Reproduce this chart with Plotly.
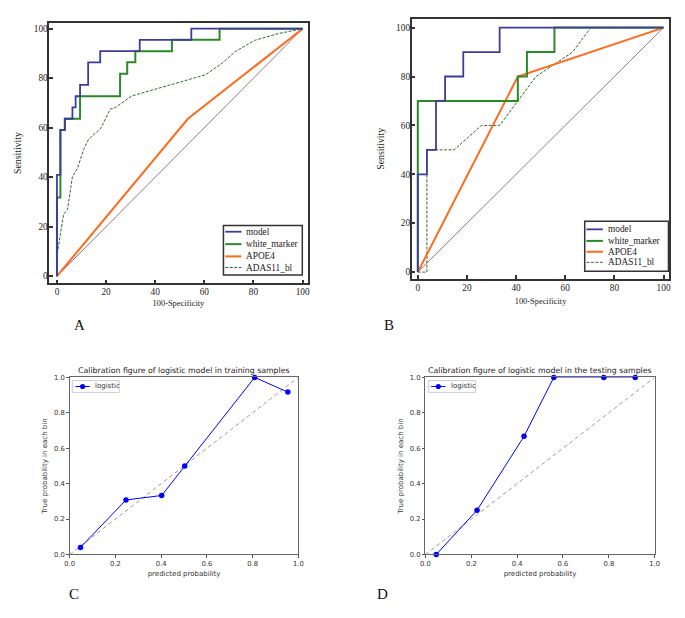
import plotly.graph_objects as go

W, H = 685, 618
def px(x): return x / W
def py(y): return 1 - y / H

# ---------------- Data ----------------
# Panel A (training ROC)
a_model_fpr = [0, 0, 1.4, 1.4, 3.2, 3.2, 6.3, 6.3, 7.6, 7.6, 9.4, 9.4, 12.7, 12.7, 17.6, 17.6, 33.7, 33.7, 54.7, 54.7, 100]
a_model_tpr = [0, 40.9, 40.9, 59.1, 59.1, 63.6, 63.6, 68.2, 68.2, 72.7, 72.7, 77.3, 77.3, 86.4, 86.4, 90.9, 90.9, 95.5, 95.5, 100, 100]
a_white_fpr = [0, 0, 1.4, 1.4, 3.2, 3.2, 9.4, 9.4, 25.7, 25.7, 28.6, 28.6, 31.9, 31.9, 46.8, 46.8, 66.2, 66.2, 100]
a_white_tpr = [0, 31.8, 31.8, 59.1, 59.1, 63.6, 63.6, 72.7, 72.7, 81.8, 81.8, 86.4, 86.4, 90.9, 90.9, 95.5, 95.5, 100, 100]
a_apoe_fpr = [0, 53.3, 100]
a_apoe_tpr = [0, 63.6, 100]
a_adas_fpr = [0, 0.25, 1.6, 2.7, 4.3, 6.3, 8.3, 11, 13, 17.7, 21.7, 23.7, 30.4, 35, 45.8, 60.5, 67.2, 72.5, 80.5, 90, 100]
a_adas_tpr = [0, 9.7, 18.3, 25, 27, 40.2, 43.5, 51.5, 55.5, 59.5, 67.5, 68.1, 72.8, 74.1, 77.4, 81.4, 86, 90.7, 95.3, 98, 100]

# Panel B (testing ROC)
b_model_fpr = [0, 0, 3.7, 3.7, 7.4, 7.4, 11.1, 11.1, 18.5, 18.5, 33.3, 33.3, 100]
b_model_tpr = [0, 40, 40, 50, 50, 70, 70, 80, 80, 90, 90, 100, 100]
b_white_fpr = [0, 0, 40.7, 40.7, 44.4, 44.4, 55.6, 55.6, 100]
b_white_tpr = [0, 70, 70, 80, 80, 90, 90, 100, 100]
b_apoe_fpr = [0, 40.7, 100]
b_apoe_tpr = [0, 80, 100]
b_adas_fpr = [0, 3.7, 3.7, 14.8, 25.9, 33.3, 40.7, 48.1, 63, 70.4, 100]
b_adas_tpr = [0, 0, 50, 50, 60, 60, 70, 80, 90, 100, 100]

diag = [0, 100]

# Panels C / D (calibration)
c_pred = [0.047, 0.246, 0.402, 0.503, 0.809, 0.954]
c_true = [0.04, 0.308, 0.333, 0.5, 1.0, 0.917]
d_pred = [0.047, 0.225, 0.43, 0.56, 0.778, 0.915]
d_true = [0.0, 0.25, 0.667, 1.0, 1.0, 1.0]

roc_names = ["model", "white_marker", "APOE4", "ADAS11_bl"]
cal_name = "logistic"
roc_ticks = [0, 20, 40, 60, 80, 100]
cal_ticks = [0, 0.2, 0.4, 0.6, 0.8, 1.0]

# ---------------- Styles ----------------
C_MODEL = "#3c3c9c"
C_WHITE = "#2a8a2a"
C_APOE = "#ff6a1c"
C_ADAS = "#2f6a2f"
C_DIAG = "#9a7882"
SERIF = "Liberation Serif"
SANS = "DejaVu Sans"
roc_styles = {
    "model": (C_MODEL, 1.8, "solid"),
    "white_marker": (C_WHITE, 2, "solid"),
    "APOE4": (C_APOE, 2, "solid"),
    "ADAS11_bl": (C_ADAS, 1, "3px,1.5px"),
}

fig = go.Figure()

def roc(xs, ys, name, color, width, dash, ax):
    fig.add_trace(go.Scatter(x=xs, y=ys, mode="lines", name=name,
                             line=dict(color=color, width=width, dash=dash),
                             xaxis="x" + ax, yaxis="y" + ax,
                             showlegend=False, hoverinfo="skip"))

for ax, d in [("", (a_model_fpr, a_model_tpr, a_white_fpr, a_white_tpr, a_apoe_fpr, a_apoe_tpr, a_adas_fpr, a_adas_tpr)),
              ("2", (b_model_fpr, b_model_tpr, b_white_fpr, b_white_tpr, b_apoe_fpr, b_apoe_tpr, b_adas_fpr, b_adas_tpr))]:
    roc(diag, diag, "reference", C_DIAG, 1, "solid", ax)
    roc(d[6], d[7], "ADAS11_bl", *roc_styles["ADAS11_bl"], ax)
    roc(d[4], d[5], "APOE4", *roc_styles["APOE4"], ax)
    roc(d[2], d[3], "white_marker", *roc_styles["white_marker"], ax)
    roc(d[0], d[1], "model", *roc_styles["model"], ax)

for ax, xs, ys in [("3", c_pred, c_true), ("4", d_pred, d_true)]:
    fig.add_trace(go.Scatter(x=[0, 1], y=[0, 1], mode="lines", line=dict(color="#9a9a9a", width=1, dash="4px,3px"),
                             xaxis="x" + ax, yaxis="y" + ax, showlegend=False, hoverinfo="skip"))
    fig.add_trace(go.Scatter(x=xs, y=ys, mode="lines+markers", name=cal_name,
                             line=dict(color="#0000ff", width=1),
                             marker=dict(color="#0000ff", size=5.5),
                             xaxis="x" + ax, yaxis="y" + ax, showlegend=False, cliponaxis=False))

def roc_axis(domain, rng, title, standoff, anchor, tsize, lstand):
    return dict(domain=domain, range=rng, anchor=anchor, tickvals=roc_ticks,
                showgrid=False, zeroline=False, showline=True, linecolor="#333", linewidth=1.5,
                mirror=True, ticks="inside", ticklen=4, tickwidth=1.5, tickcolor="#333",
                ticklabelstandoff=lstand,
                tickfont=dict(family=SERIF, size=9.3, color="#222"),
                title=dict(text=title, font=dict(family=SERIF, size=tsize, color="#222"), standoff=standoff))

def cal_axis(domain, title, standoff, anchor):
    return dict(domain=domain, range=[0, 1], anchor=anchor, tickvals=cal_ticks, tickformat=".1f",
                showgrid=False, zeroline=False, showline=True, linecolor="#666", linewidth=1,
                mirror=True, ticks="outside", ticklen=2.5, tickwidth=1, tickcolor="#555",
                tickfont=dict(family=SANS, size=6.8, color="#333"),
                title=dict(text=title, font=dict(family=SANS, size=7, color="#333"), standoff=standoff))

fig.update_layout(
    width=W, height=H, autosize=False,
    margin=dict(l=0, r=0, t=0, b=0),
    paper_bgcolor="white", plot_bgcolor="white",
    showlegend=False,
    xaxis=roc_axis([px(45), px(307)], [-3.1, 102], "100-Specificity", 4, "y", 8.4, -1),
    yaxis=roc_axis([py(283), py(19)], [-2.9, 102.4], "Sensitivity", 10, "x", 9.8, -2),
    xaxis2=roc_axis([px(412.7), px(674.3)], [-2.5, 102.4], "100-Specificity", 7, "y2", 8.4, -1),
    yaxis2=roc_axis([py(278.3), py(15)], [-2.7, 103.6], "Sensitivity", 10, "x2", 9.8, -2),
    xaxis3=cal_axis([px(65.7), px(297.7)], "predicted probability", 3, "y3"),
    yaxis3=cal_axis([py(557.7), py(378.3)], "True probability in each bin", 5, "x3"),
    xaxis4=cal_axis([px(426.7), px(659.3)], "predicted probability", 3, "y4"),
    yaxis4=cal_axis([py(557.7), py(378.3)], "True probability in each bin", 5, "x4"),
)

annots = [
    dict(text="Calibration figure of logistic model in training samples", xref="x3 domain", yref="y3 domain",
         x=0.5, y=1, yanchor="bottom", yshift=0, showarrow=False, font=dict(family=SANS, size=7.8, color="#222")),
    dict(text="Calibration figure of logistic model in the testing samples", xref="x4 domain", yref="y4 domain",
         x=0.5, y=1, yanchor="bottom", yshift=0, showarrow=False, font=dict(family=SANS, size=7.8, color="#222")),
]
for lab, x, y in [("A", 76, 325), ("B", 390, 325), ("C", 70, 598), ("D", 383, 598)]:
    annots.append(dict(text=lab, xref="paper", yref="paper", x=px(x), y=py(y), xanchor="center", yanchor="middle",
                       showarrow=False, font=dict(family=SERIF, size=15, color="#111")))

shapes = []
# ROC legends (box, line samples, labels)
for (bx0, by0, bx1, by1), rows, lx0, lx1, tx in [
        ((221.7, 224.3, 301.7, 274.5), [230.7, 243.3, 255.7, 267], 223.5, 240, 243),
        ((588.3, 220, 673.3, 270.7), [228.3, 240, 251, 261.7], 590, 606.7, 609.5)]:
    shapes.append(dict(type="rect", xref="paper", yref="paper", x0=px(bx0), x1=px(bx1), y0=py(by1), y1=py(by0),
                       line=dict(color="#333", width=1.5), fillcolor="white", layer="above"))
    for nm, ry in zip(roc_names, rows):
        col, wd, ds = roc_styles[nm]
        shapes.append(dict(type="line", xref="paper", yref="paper", x0=px(lx0), x1=px(lx1), y0=py(ry), y1=py(ry),
                           line=dict(color=col, width=wd, dash=ds), layer="above"))
        annots.append(dict(text=nm, xref="paper", yref="paper", x=px(tx), y=py(ry), xanchor="left", yanchor="middle",
                           showarrow=False, font=dict(family=SERIF, size=9.3, color="#222")))

# Calibration legends
for bx0, lx0, lx1, tx in [(68.3, 71.5, 86, 89.3), (430, 432.5, 447, 451)]:
    by0, by1, ry = 381.5, 393.5, 387.5
    shapes.append(dict(type="rect", xref="paper", yref="paper", x0=px(bx0), x1=px(bx0 + 47.5), y0=py(by1), y1=py(by0),
                       line=dict(color="#cccccc", width=1), fillcolor="white", layer="above"))
    shapes.append(dict(type="line", xref="paper", yref="paper", x0=px(lx0), x1=px(lx1), y0=py(ry), y1=py(ry),
                       line=dict(color="#0000ff", width=1), layer="above"))
    mx = (lx0 + lx1) / 2
    shapes.append(dict(type="circle", xref="paper", yref="paper", x0=px(mx - 2.6), x1=px(mx + 2.6),
                       y0=py(ry + 2.6), y1=py(ry - 2.6), line=dict(color="#0000ff", width=0),
                       fillcolor="#0000ff", layer="above"))
    annots.append(dict(text=cal_name, xref="paper", yref="paper", x=px(tx), y=py(ry), xanchor="left", yanchor="middle",
                       showarrow=False, font=dict(family=SANS, size=7, color="#333")))

fig.update_layout(annotations=annots, shapes=shapes)

fig.write_html("out.html", config={"displayModeBar": False},
               post_script="document.body.style.margin='0';document.body.style.overflow='hidden';")
